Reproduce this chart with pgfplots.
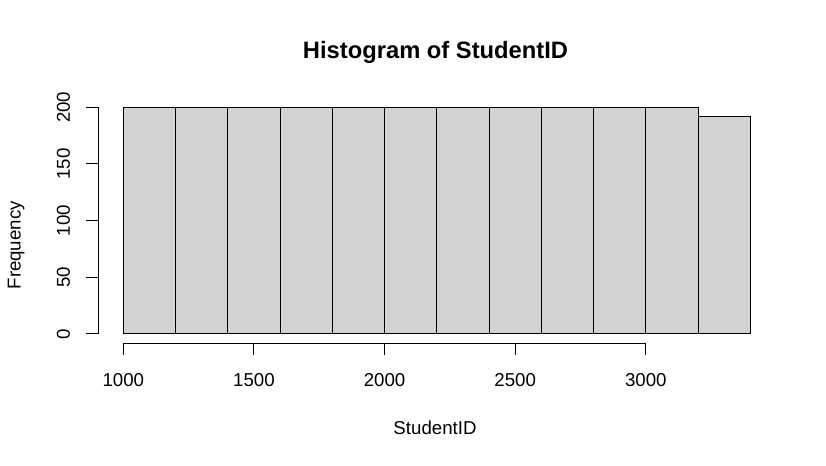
\documentclass[border=0pt]{standalone}
\usepackage{pgfplots}
\pgfplotsset{compat=1.18}
\usepackage{fontspec}
\setmainfont{Liberation Sans}
\definecolor{rgray}{RGB}{211,211,211}
\begin{document}
\begin{tikzpicture}[x=0.75pt,y=0.75pt]
\path[use as bounding box] (0,0) rectangle (826,466);
\begin{axis}[
  at={(73.7pt,92.2pt)}, anchor=south west,
  scale only axis, width=507.8pt, height=183.7pt,
  xmin=904, xmax=3496, ymin=-8, ymax=208,
  axis line style={draw=none},
  xtick={1000,1500,2000,2500,3000},
  ytick={0,50,100,150,200},
  xtick pos=bottom, ytick pos=left,
  tick align=outside, major tick length=9pt,
  tick style={black, line width=0.75pt},
  /pgf/number format/assume math mode=true,
  /pgf/number format/1000 sep={},
  ticklabel style={font=\fontsize{14}{16}\selectfont},
  xticklabel style={anchor=base, yshift=-23.5pt},
  yticklabel style={rotate=90, anchor=base, yshift=12.2pt},
  clip=false,
]
\addplot[ybar interval, fill=rgray, draw=black, line width=0.75pt] coordinates {
 (1000,200) (1200,200) (1400,200) (1600,200) (1800,200) (2000,200)
 (2200,200) (2400,200) (2600,200) (2800,200) (3000,200) (3200,192) (3400,192)};
\draw[line width=0.75pt] (axis cs:1000,-8) -- (axis cs:3000,-8);
\draw[line width=0.75pt] (axis cs:904,0) -- (axis cs:904,200);
\end{axis}
\node[anchor=base, font=\fontsize{17.8}{20}\selectfont\bfseries] at (435.5,407.7) {Histogram of StudentID};
\node[anchor=base, font=\fontsize{14}{16}\selectfont] at (435,31) {StudentID};
\node[anchor=base, rotate=90, font=\fontsize{14}{16}\selectfont] at (20.7,220.7) {Frequency};
\end{tikzpicture}
\end{document}
